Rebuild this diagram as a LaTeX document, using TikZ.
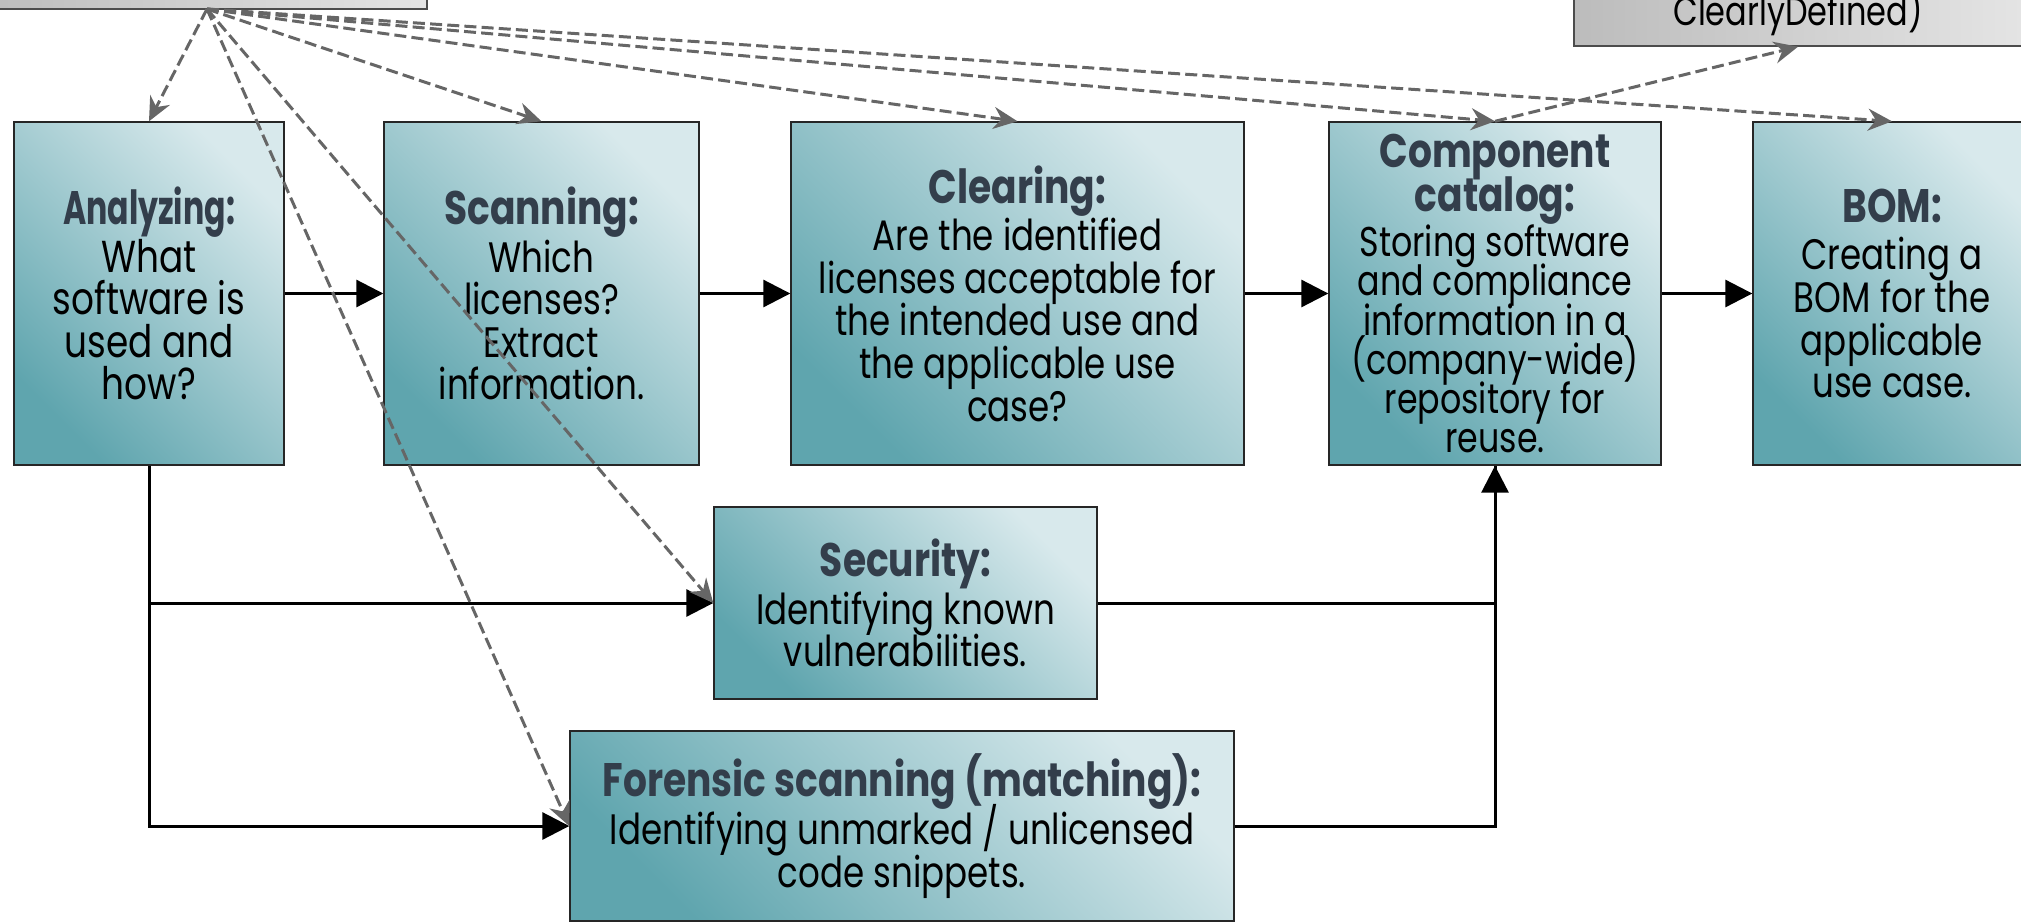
\documentclass[tikz,border=0pt]{standalone}
\usepackage{fontspec}
\usepackage{graphicx}
\setmainfont{Poppins}[FakeStretch=0.80]
\usetikzlibrary{arrows.meta}
\definecolor{tealdark}{HTML}{5FA5AE}
\definecolor{teallight}{HTML}{D8E9EC}
\definecolor{headc}{HTML}{333E4B}
\definecolor{dashc}{HTML}{666666}
\definecolor{greydark}{HTML}{BCBCBC}
\definecolor{greylight}{HTML}{E4E4E4}
\newcommand\hd[1]{{\fontsize{23.5}{24}\selectfont\bfseries\color{headc}#1}}
\newcommand\narrowhd[1]{\scalebox{0.84}[1]{#1}}
\tikzset{
  stage/.style={draw=black!85, line width=0.7pt, bottom color=tealdark,
    top color=teallight, shading angle=-45, align=center, inner sep=0pt,
    font=\fontsize{21.3}{21.3}\selectfont, text=black,
    execute at begin node={\lineskiplimit=-100pt\relax}},
  source/.style={draw=black!70, line width=0.7pt, left color=greydark,
    right color=greylight, inner sep=0pt},
  flow/.style={line width=1.5pt, -{Triangle[length=13.5pt,width=13.5pt]}},
  plain/.style={line width=1.5pt},
  link/.style={dashc, line width=1.5pt, dash pattern=on 6pt off 2.6pt,
    -{Stealth[length=12pt,width=11pt,inset=4pt]}}
}
\begin{document}
\begin{tikzpicture}[x=0.5pt,y=-0.5pt]
\clip (0,0) rectangle (2021,921);
\useasboundingbox (0,0) rectangle (2021,921);

% information sources
\node[source, minimum width=223.5pt, minimum height=44.5pt] (src) at (203.5,-35.5) {};
\node[source, minimum width=224pt, minimum height=63pt] (dst) at (1798,-17) {};
\node[font=\fontsize{20}{21.3}\selectfont] (dsttext) at (1798,12) {ClearlyDefined)};

% process stages
\node[stage, minimum width=135pt, minimum height=171.5pt,
      font=\fontsize{22.4}{21.3}\selectfont] (ana) at (149,293.5)
  {\hd{\narrowhd{Analyzing:}}\\[2.5pt]What\\software is\\used and\\how?};
\node[stage, minimum width=157.5pt, minimum height=171.5pt] (scan) at (541.5,293.5)
  {\hd{Scanning:}\\[2.5pt]Which\\licenses?\\Extract\\information.};
\node[stage, minimum width=226.5pt, minimum height=171.5pt] (clear) at (1017.5,293.5)
  {\hd{Clearing:}\\[2.5pt]Are the identified\\licenses acceptable for\\the intended use and\\the applicable use\\case?};
\node[stage, minimum width=166pt, minimum height=171.5pt,
      font=\fontsize{20.8}{19.6}\selectfont] (comp) at (1495,293.5)
  {\hd{Component}\\[2.2pt]\hd{catalog:}\\[3.2pt]Storing software\\and compliance\\information in a\\(company-wide)\\repository for\\reuse.};
\node[stage, minimum width=139pt, minimum height=171.5pt] (bom) at (1892,293.5)
  {\hd{BOM:}\\[2.5pt]Creating a\\BOM for the\\applicable\\use case.};
\node[stage, minimum width=191.5pt, minimum height=96pt] (sec) at (905.5,603)
  {\hd{Security:}\\[2.5pt]Identifying known\\vulnerabilities.};
\node[stage, minimum width=332pt, minimum height=95pt] (for) at (902,826)
  {\hd{Forensic scanning (matching):}\\[2.5pt]Identifying unmarked / unlicensed\\code snippets.};

% main flow
\draw[flow] (ana.east) -- (scan.west);
\draw[flow] (scan.east) -- (clear.west);
\draw[flow] (clear.east) -- (comp.west);
\draw[flow] (comp.east) -- (bom.west);
\draw[flow] (ana.south) |- (sec.west);
\draw[flow] (ana.south) |- (for.west);
\draw[flow] (sec.east) -| (comp.south);
\draw[plain] (for.east) -| (comp.south);

% information links
\coordinate (hub) at (207,9);
\draw[link] (hub) -- (ana.north);
\draw[link] (hub) -- (scan.north);
\draw[link] (hub) -- (clear.north);
\draw[link] (hub) -- (comp.north);
\draw[link] (hub) -- (bom.north);
\draw[link] (hub) -- (sec.west);
\draw[link] (hub) -- (for.west);
\draw[link] (comp.north) -- (dst.south);
\end{tikzpicture}
\end{document}
